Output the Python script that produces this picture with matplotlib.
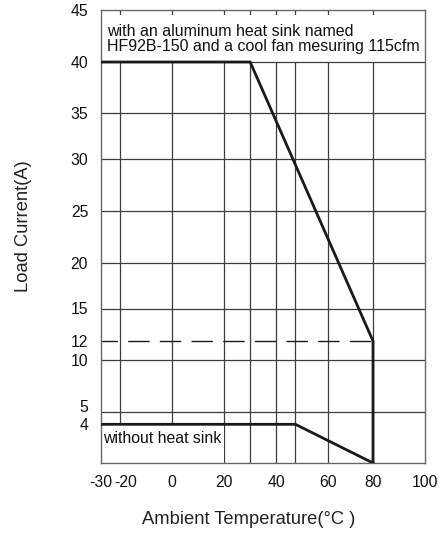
import numpy as np
import matplotlib
matplotlib.use('Agg')
import matplotlib.pyplot as plt
from matplotlib.transforms import ScaledTranslation

plt.rcParams['font.family'] = ['Liberation Sans', 'DejaVu Sans']
plt.rcParams['axes.unicode_minus'] = False

# ---- data ----
with_sink_temp = [-30, 30, 80, 80]
with_sink_current = [40, 40, 12, 0]
no_sink_temp = [-30, 47.5, 80]
no_sink_current = [4, 4, 0]
limit_temp = [-30, 80]
limit_current = [12, 12]
x_ticks = [-30, -20, 0, 20, 40, 60, 80, 100]
x_grid = [-20, 0, 20, 30, 40, 47.5, 60, 80]
y_ticks = [4, 5, 10, 12, 15, 20, 25, 30, 35, 40, 45]
y_grid = [5, 10, 15, 20, 25, 30, 35, 40]
note_with = "with an aluminum heat sink named\nHF92B-150 and a cool fan mesuring 115cfm"
note_without = "without heat sink"
x_title = "Ambient Temperature(\u00b0C )"
y_title = "Load Current(A)"

# ---- piecewise scales matching the drawn (non-uniform) axes ----
XK = np.array([-30, -20, 0, 20, 40, 60, 80, 100.])
XP = np.array([101, 120.3, 172.3, 224.3, 276, 327.7, 373, 425.])
YK = np.array([0, 4, 5, 10, 12, 15, 20, 25, 30, 35, 40, 45.])
YP = -np.array([463, 424.3, 411.7, 360, 341, 308.5, 263, 210.7, 159, 113.3, 62, 9.5])


def make_scale(k, p):
    def mapper(a, b):
        s0 = (b[1] - b[0]) / (a[1] - a[0])
        s1 = (b[-1] - b[-2]) / (a[-1] - a[-2])

        def f(v):
            v = np.asarray(v, float)
            out = np.interp(v, a, b)
            out = np.where(v < a[0], b[0] + (v - a[0]) * s0, out)
            out = np.where(v > a[-1], b[-1] + (v - a[-1]) * s1, out)
            return out
        return f
    return mapper(k, p), mapper(p, k)


W, H = 441, 534
fig = plt.figure(figsize=(W / 100, H / 100), dpi=100)
L, R, T, B = 101, 425, 9.5, 463
ax = fig.add_axes([L / W, 1 - B / H, (R - L) / W, (B - T) / H])
ax.set_xscale('function', functions=make_scale(XK, XP))
ax.set_yscale('function', functions=make_scale(YK, YP))
ax.set_xlim(-30, 100)
ax.set_ylim(0, 45)

gc = '#3c3c3c'
for x in x_grid:
    ax.axvline(x, color=gc, lw=0.9, zorder=1)
ax.axhspan(40, 44.48, color='white', lw=0, zorder=1.5)
ax.fill_between([-30, 20], 0, 4, color='white', lw=0, zorder=1.5)
for y in y_grid:
    ax.axhline(y, color=gc, lw=0.9, zorder=2)

ax.plot(limit_temp, limit_current, color='#1a1a1a', lw=1.0,
        linestyle=(3.6, (15.4, 7.4)), zorder=2.5)
ax.plot(with_sink_temp, with_sink_current, color='#1a1a1a', lw=2.0,
        zorder=3, solid_joinstyle='miter')
ax.plot(no_sink_temp, no_sink_current, color='#1a1a1a', lw=2.0,
        zorder=3, solid_joinstyle='miter')

t_with = ax.text((106.7 - L) / (R - L), (B - 24.5) / (B - T), note_with,
                 transform=ax.transAxes, ha='left', va='top', fontsize=11,
                 linespacing=0.97, color='#111', zorder=4)
t_without = ax.text((102.7 - L) / (R - L), (B - 438.8) / (B - T), note_without,
                    transform=ax.transAxes, ha='left', va='center', fontsize=11,
                    color='#111', zorder=4)

ax.set_xticks(x_ticks)
ax.set_xticklabels([str(t) for t in x_ticks])
ax.set_yticks(y_ticks)
ax.set_yticklabels([str(t) for t in y_ticks])
ax.tick_params(axis='both', length=0, labelsize=11.3, colors='#111')
ax.tick_params(axis='x', pad=8.4)
ax.tick_params(axis='y', pad=9.2)
lab = ax.get_xticklabels()[1]
lab.set_transform(lab.get_transform() + ScaledTranslation(0.05, 0, fig.dpi_scale_trans))
lab5 = ax.get_yticklabels()[1]
lab5.set_transform(lab5.get_transform() + ScaledTranslation(0, 0.06, fig.dpi_scale_trans))

for s in ax.spines.values():
    s.set_color('#666666')
    s.set_linewidth(1.0)

t_x = fig.text(248.5 / W, 1 - 520 / H, x_title, ha='center', va='center',
               fontsize=11, color='#222')
t_y = fig.text(24 / W, 1 - 225.8 / H, y_title, ha='center', va='center',
               rotation=90, fontsize=11, color='#222')

# fit text sizes to the widths measured on the reference
fig.canvas.draw()
rend = fig.canvas.get_renderer()
for txt, target, use_h in [(t_with, 313, False), (t_without, 118, False),
                           (t_x, 213, False), (t_y, 131.7, True)]:
    bb = txt.get_window_extent(rend)
    cur = bb.height if use_h else bb.width
    txt.set_fontsize(txt.get_fontsize() * target / cur)

fig.savefig('out.png', dpi=100, facecolor='white')
